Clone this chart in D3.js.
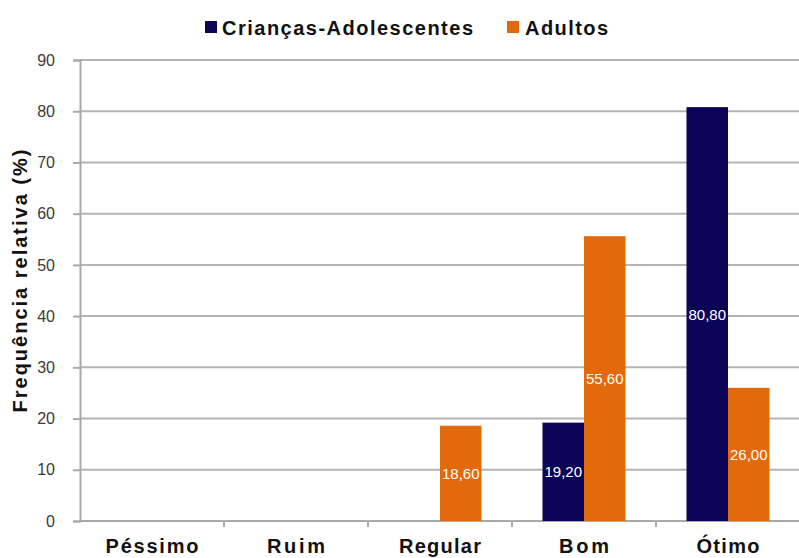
<!DOCTYPE html>
<html><head><meta charset="utf-8">
<script src="https://cdn.jsdelivr.net/npm/d3@7"></script>
<style>body{margin:0;background:#fff;} svg{display:block;font-family:"Liberation Sans",Arial,sans-serif;}</style>
</head><body><svg id="c" width="799" height="558"></svg>
<script>
const categories = ["Péssimo","Ruim","Regular","Bom","Ótimo"];
const seriesNames = ["Crianças-Adolescentes","Adultos"];
const criancas = [null, null, null, 19.20, 80.80];
const adultos = [null, null, 18.60, 55.60, 26.00];
const yTicks = [0,10,20,30,40,50,60,70,80,90];
const colors = ["#0c0456","#e2690c"];

const svg = d3.select("#c");
const W = 799;
const x = d3.scaleBand().domain(categories).range([80, 800]);
const y = d3.scaleLinear().domain([0,90]).range([521, 60]);
const xs = d3.scaleBand().domain(seriesNames).range([0, x.bandwidth()]).paddingInner(0).paddingOuter(0.735);
const FONT = "Liberation Sans, Arial, sans-serif";

// gridlines
svg.append("g").selectAll("line").data(yTicks.filter(d=>d>0)).join("line")
  .attr("x1", 80).attr("x2", W).attr("y1", d=>y(d)).attr("y2", d=>y(d))
  .attr("stroke","#b4b4b4").attr("stroke-width",2);

// y axis
const ya = svg.append("g").attr("transform","translate(80,0)")
  .call(d3.axisLeft(y).tickValues(yTicks).tickSize(7).tickPadding(18));
ya.select(".domain").attr("stroke","#a8a8a8").attr("stroke-width",2);
ya.selectAll(".tick line").attr("stroke","#a8a8a8").attr("stroke-width",2);
ya.selectAll(".tick text").attr("fill","#3a3a3a").attr("font-size",16).attr("font-family",FONT);

// x axis
const xa = svg.append("g").attr("transform","translate(0,521)")
  .call(d3.axisBottom(x).tickSize(0).tickPadding(0));
xa.select(".domain").attr("stroke","#a8a8a8").attr("stroke-width",2).attr("d",`M80,0H${W}`);
const xw = {"Péssimo":93,"Ruim":58,"Regular":82,"Bom":50,"Ótimo":63};
xa.selectAll(".tick text").attr("fill","#111").attr("font-size",20).attr("font-weight","bold")
  .attr("font-family",FONT).attr("y",32).attr("dy",0)
  .attr("textLength", d=>xw[d]).attr("lengthAdjust","spacing");
// category separators
svg.append("g").selectAll("line").data(categories.slice(1)).join("line")
  .attr("x1", d=>x(d)).attr("x2", d=>x(d)).attr("y1",521).attr("y2",527)
  .attr("stroke","#a8a8a8").attr("stroke-width",2);

// bars
const data = [criancas, adultos];
data.forEach((vals, si) => {
  const g = svg.append("g");
  const pts = categories.map((c,i)=>({c, v: vals[i]})).filter(d=>d.v!=null);
  g.selectAll("rect").data(pts).join("rect")
    .attr("x", d=>x(d.c)+xs(seriesNames[si]))
    .attr("width", xs.bandwidth())
    .attr("y", d=>y(d.v)).attr("height", d=>y(0)-y(d.v))
    .attr("fill", colors[si]);
  g.selectAll("text").data(pts).join("text")
    .attr("x", d=>x(d.c)+xs(seriesNames[si])+xs.bandwidth()/2)
    .attr("y", d=>y(d.v/2))
    .attr("text-anchor","middle").attr("dominant-baseline","central")
    .attr("fill","#fff").attr("font-size",15).attr("font-family",FONT)
    .text(d=>d.v.toFixed(2).replace(".",","));
});

// y title
svg.append("text").attr("transform","translate(27,281) rotate(-90)")
  .attr("text-anchor","middle")
  .attr("font-size",20).attr("font-weight","bold").attr("fill","#111").attr("font-family",FONT)
  .attr("textLength",263).attr("lengthAdjust","spacing")
  .text("Frequência relativa (%)");

// legend
const leg = svg.append("g");
const legX = [205, 507];
const legTX = [222, 525];
const legW = [251, 83];
seriesNames.forEach((n,i)=>{
  leg.append("rect").attr("x",legX[i]).attr("y",21).attr("width",12).attr("height",12).attr("fill",colors[i]);
  leg.append("text").attr("x",legTX[i]).attr("y",35)
    .attr("font-size",20).attr("font-weight","bold").attr("fill","#111").attr("font-family",FONT)
    .attr("textLength",legW[i]).attr("lengthAdjust","spacing").text(n);
});
</script></body></html>
